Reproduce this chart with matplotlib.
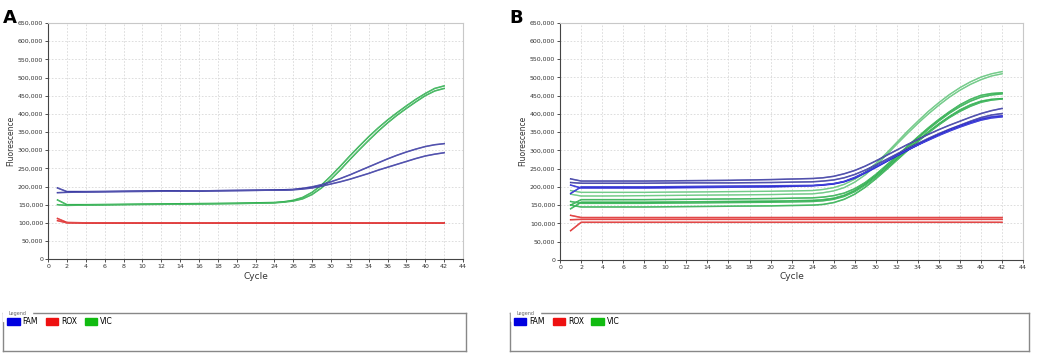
import matplotlib
matplotlib.use('Agg')
import matplotlib.pyplot as plt
from matplotlib.patches import Patch
from matplotlib.ticker import FuncFormatter

cycles = [1, 2, 4, 8, 12, 16, 20, 24, 25, 26, 27, 28, 29, 30, 31, 32, 33,
          34, 35, 36, 37, 38, 39, 40, 41, 42]

# panel A
famA1 = [196, 186, 186, 187, 188, 188, 189, 190, 191, 192, 195, 199, 205, 213, 222, 232, 243,
         254, 265, 276, 286, 295, 303, 310, 315, 318]
famA2 = [183, 184, 185, 186, 187, 188, 189, 190, 190, 191, 193, 196, 201, 207, 213, 220, 228,
         236, 245, 253, 261, 269, 277, 284, 289, 293]
vicA1 = [163, 150, 150, 151, 152, 153, 154, 156, 158, 162, 170, 184, 204, 229, 256, 284, 311,
         337, 361, 383, 403, 422, 440, 456, 470, 477]
vicA2 = [150, 148, 149, 150, 151, 152, 153, 155, 157, 160, 166, 178, 196, 220, 246, 274, 301,
         327, 352, 375, 396, 415, 433, 450, 463, 470]
roxA1 = [112, 101, 100, 100, 100, 100, 100, 100, 100, 100, 100, 100, 100, 100, 100, 100, 100,
         100, 100, 100, 100, 100, 100, 100, 100, 100]
roxA2 = [106, 100, 100, 100, 100, 100, 100, 100, 100, 100, 100, 100, 100, 100, 100, 100, 100,
         100, 100, 100, 100, 100, 100, 100, 100, 100]

# panel B
famB1 = [222, 216, 216, 216, 217, 218, 220, 223, 225, 229, 236, 245, 257, 271, 286, 301, 316,
         330, 344, 357, 369, 380, 391, 401, 409, 415]
famB2 = [212, 210, 210, 210, 211, 211, 212, 214, 216, 219, 225, 234, 246, 260, 275, 290, 305,
         319, 333, 346, 358, 369, 380, 390, 397, 401]
famB3 = [205, 197, 197, 197, 198, 199, 200, 203, 205, 208, 214, 224, 238, 253, 269, 285, 300,
         315, 330, 343, 356, 367, 377, 386, 392, 395]
famB4 = [182, 200, 200, 200, 201, 202, 203, 204, 206, 209, 215, 226, 240, 255, 270, 286, 301,
         315, 328, 341, 353, 364, 374, 383, 389, 392]
vicB1 = [190, 185, 185, 185, 186, 187, 188, 190, 193, 198, 207, 221, 240, 264, 292, 322, 352,
         380, 407, 431, 453, 472, 488, 501, 510, 516]
vicB2 = [180, 175, 175, 176, 177, 178, 179, 181, 184, 189, 198, 213, 233, 258, 287, 317, 346,
         374, 400, 424, 446, 465, 481, 494, 504, 510]
vicB3 = [150, 165, 165, 165, 166, 167, 168, 170, 172, 176, 183, 195, 212, 234, 259, 285, 311,
         337, 362, 385, 406, 425, 440, 451, 456, 458]
vicB4 = [140, 158, 158, 158, 159, 160, 161, 163, 165, 169, 177, 190, 208, 230, 255, 281, 307,
         333, 358, 381, 402, 420, 435, 446, 452, 455]
vicB5 = [160, 155, 155, 155, 156, 157, 158, 160, 162, 166, 174, 187, 205, 227, 251, 277, 302,
         327, 351, 373, 393, 411, 425, 435, 440, 442]
vicB6 = [150, 145, 145, 145, 146, 147, 148, 150, 152, 157, 166, 180, 199, 222, 247, 273, 299,
         324, 348, 370, 390, 407, 421, 432, 438, 441]
roxB1 = [122, 116, 116, 116, 116, 116, 116, 116, 116, 116, 116, 116, 116, 116, 116, 116, 116,
         116, 116, 116, 116, 116, 116, 116, 116, 116]
roxB2 = [110, 111, 111, 111, 111, 111, 111, 111, 111, 111, 111, 111, 111, 111, 111, 111, 111,
         111, 111, 111, 111, 111, 111, 111, 111, 111]
roxB3 = [80, 103, 103, 103, 103, 103, 103, 103, 103, 103, 103, 103, 103, 103, 103, 103, 103,
         103, 103, 103, 103, 103, 103, 103, 103, 103]

legendNames = ['FAM', 'ROX', 'VIC']
legendColors = ['#0000e0', '#ee1111', '#11bb11']

famColor = '#2c2c9c'
famColor2 = '#1a1ad0'
vicColor = '#22aa44'
vicLight = '#55c070'
roxColor = '#dd2020'

fig = plt.figure(figsize=(10.45, 3.55), dpi=100)


def setupAxes(ax):
    ax.set_xlim(0, 44)
    ax.set_ylim(0, 650000)
    ax.set_xticks(range(0, 45, 2))
    ax.set_yticks(range(0, 650001, 50000))
    ax.yaxis.set_major_formatter(FuncFormatter(lambda v, p: '{:,}'.format(int(v))))
    ax.tick_params(labelsize=4.5, length=2, width=0.6, pad=1.5, colors='#333333')
    ax.grid(True, color='#d8d8d8', linestyle=(0, (2, 2)), linewidth=0.6)
    for s in ['top', 'right']:
        ax.spines[s].set_color('#c8c8c8')
    for s in ['left', 'bottom']:
        ax.spines[s].set_color('#444444')
        ax.spines[s].set_linewidth(0.8)
    ax.set_xlabel('Cycle', fontsize=6.5, labelpad=2, color='#333333')
    ax.set_ylabel('Fluorescence', fontsize=5.5, labelpad=2, color='#333333')


def curve(ax, vals, color, lw=1.1):
    ax.plot(cycles, [v * 1000 for v in vals], color=color, linewidth=lw)
    ax.plot(cycles, [v * 1000 for v in vals], color='white', linewidth=0.25, alpha=0.5)


def legendBox(rect):
    lax = fig.add_axes(rect)
    lax.set_xticks([])
    lax.set_yticks([])
    for s in lax.spines.values():
        s.set_color('#888888')
        s.set_linewidth(1.0)
    lax.text(0.012, 1.0, 'Legend', fontsize=3.5, color='#666666', va='center',
             transform=lax.transAxes, backgroundcolor='white')
    handles = [Patch(facecolor=c, edgecolor=c) for c in legendColors]
    lax.legend(handles, legendNames, loc='upper left', ncol=3, frameon=False, fontsize=5.5,
               handlelength=1.6, handleheight=1.1, handletextpad=0.4, columnspacing=1.0,
               borderaxespad=0.35, borderpad=0.2)


# panel A
axA = fig.add_axes([0.046, 0.270, 0.397, 0.665])
setupAxes(axA)
curve(axA, roxA1, roxColor)
curve(axA, roxA2, roxColor)
curve(axA, vicA1, vicColor)
curve(axA, vicA2, vicColor)
curve(axA, famA1, famColor)
curve(axA, famA2, famColor)
fig.text(0.003, 0.975, 'A', fontsize=13, fontweight='bold', va='top')
legendBox([0.003, 0.011, 0.443, 0.107])

# panel B
axB = fig.add_axes([0.536, 0.268, 0.443, 0.668])
setupAxes(axB)
for r in [roxB1, roxB2, roxB3]:
    curve(axB, r, roxColor)
curve(axB, vicB1, vicLight, 1.0)
curve(axB, vicB2, vicLight, 1.0)
for v in [vicB3, vicB4, vicB5, vicB6]:
    curve(axB, v, vicColor)
curve(axB, famB1, famColor)
curve(axB, famB2, famColor)
curve(axB, famB3, famColor2)
curve(axB, famB4, famColor2)
fig.text(0.487, 0.975, 'B', fontsize=13, fontweight='bold', va='top')
legendBox([0.488, 0.011, 0.497, 0.107])

fig.savefig('out.png', dpi=100)
